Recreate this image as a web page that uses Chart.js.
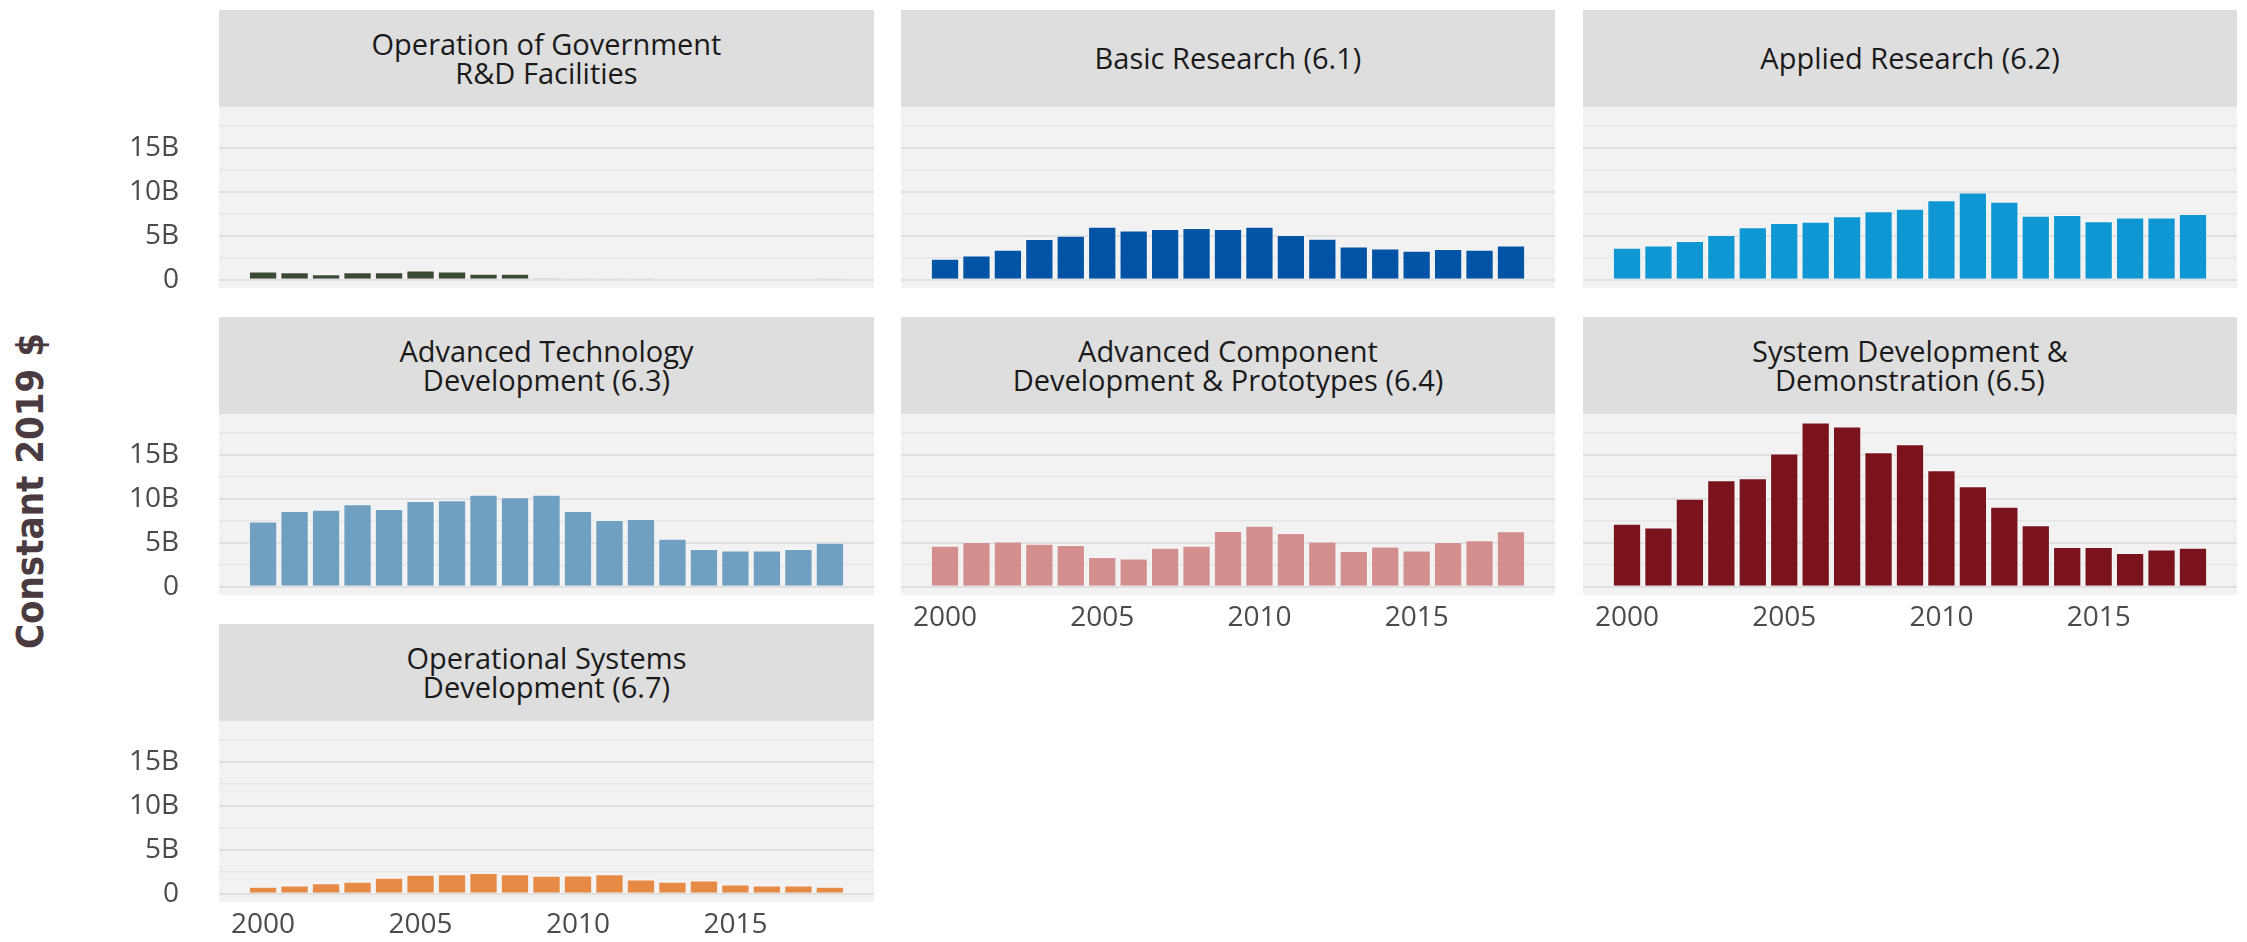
<!DOCTYPE html>
<html>
<head>
<meta charset="utf-8">
<script src="https://cdn.jsdelivr.net/npm/chart.js@4.4.0/dist/chart.umd.min.js"></script>
<style>
  html, body { margin:0; padding:0; background:#ffffff; width:2247px; height:942px; overflow:hidden; }
  .hdr { position:absolute; background:#dedede; color:#1a1a1a; font-family:"Open Sans", sans-serif;
         font-size:29px; line-height:28.5px; display:flex; align-items:center; justify-content:center; text-align:center; }
  .cw { position:absolute; }
  #ytitle { position:absolute; left:30px; top:491px; transform:translate(-50%,-50%) rotate(-90deg);
            font-family:"Liberation Sans Narrow", "DejaVu Sans Condensed", sans-serif; font-weight:bold;
            font-size:38px; color:#4a3b41; white-space:nowrap; }
</style>
</head>
<body>
<div id="ytitle">Constant 2019 $</div>
<script>
// ---------------- DATA ----------------
const years = [2000,2001,2002,2003,2004,2005,2006,2007,2008,2009,2010,2011,2012,2013,2014,2015,2016,2017,2018];

const panelTitles = [
  ["Operation of Government", "R&D Facilities"],
  ["Basic Research (6.1)"],
  ["Applied Research (6.2)"],
  ["Advanced Technology", "Development (6.3)"],
  ["Advanced Component", "Development & Prototypes (6.4)"],
  ["System Development &", "Demonstration (6.5)"],
  ["Operational Systems", "Development (6.7)"]
];

// values in billions of constant 2019 $
const opGovFacilities  = [0.95, 0.87, 0.64, 0.87, 0.87, 1.06, 0.95, 0.68, 0.68, 0.19, 0.08, 0.08, 0.08, null, null, null, null, null, 0.08];
const basicResearch    = [2.39, 2.77, 3.41, 4.62, 5.00, 6.02, 5.60, 5.76, 5.87, 5.76, 6.02, 5.08, 4.66, 3.79, 3.56, 3.30, 3.48, 3.41, 3.90];
const appliedResearch  = [3.64, 3.90, 4.39, 5.08, 5.95, 6.44, 6.59, 7.20, 7.77, 8.07, 9.02, 9.89, 8.86, 7.27, 7.35, 6.63, 7.08, 7.08, 7.46];
const advTechDev       = [7.42, 8.60, 8.75, 9.36, 8.83, 9.73, 9.81, 10.45, 10.15, 10.45, 8.60, 7.58, 7.69, 5.45, 4.28, 4.13, 4.13, 4.28, 5.00];
const advComponentDev  = [4.66, 5.08, 5.15, 4.89, 4.73, 3.37, 3.22, 4.43, 4.66, 6.33, 6.93, 6.10, 5.15, 4.05, 4.58, 4.13, 5.08, 5.27, 6.29];
const sysDevDemo       = [7.16, 6.74, 10.00, 12.08, 12.31, 15.11, 18.64, 18.18, 15.27, 16.17, 13.22, 11.40, 9.09, 6.97, 4.51, 4.51, 3.83, 4.24, 4.43];
const operationalSysDev= [0.80, 0.95, 1.21, 1.36, 1.82, 2.16, 2.23, 2.35, 2.23, 2.05, 2.08, 2.23, 1.63, 1.36, 1.52, 1.06, 0.95, 0.95, 0.80];

const seriesList = [opGovFacilities, basicResearch, appliedResearch, advTechDev, advComponentDev, sysDevDemo, operationalSysDev];

const yTickValues = [0, 5, 10, 15];
const xTickValues = [2000, 2005, 2010, 2015];

// ---------------- STYLE / LAYOUT ----------------
const barColors = ["#3c4a35", "#0053a5", "#0f97d4", "#6f9fc1", "#d28f8e", "#7b131c", "#e68a46"];
const colLeft  = [219, 901, 1583];
const colRight = [874, 1555, 2237];
const rowTop   = [10, 317, 624];
const HDR_H = 97, PLOT_H = 181;
const YW = 110, XH = 60;
const showYTicks = [true, false, false, true, false, false, true];
const showXTicks = [false, false, false, false, true, true, true];

const bgPlugin = {
  id: 'panelBg',
  beforeDraw(chart) {
    const a = chart.chartArea, c = chart.ctx;
    c.save(); c.fillStyle = '#f2f2f2';
    c.fillRect(a.left, a.top, a.right - a.left, a.bottom - a.top);
    c.restore();
  }
};

function zeroPad(s) { s.paddingTop = 0; s.paddingBottom = 0; s.paddingLeft = 0; s.paddingRight = 0; }

seriesList.forEach((vals, i) => {
  const col = i % 3, row = Math.floor(i / 3);
  const left = colLeft[col], right = colRight[col], top = rowTop[row];
  const w = right - left;

  const h = document.createElement('div');
  h.className = 'hdr';
  h.style.left = left + 'px'; h.style.top = top + 'px';
  h.style.width = w + 'px'; h.style.height = HDR_H + 'px';
  h.innerHTML = '<div>' + panelTitles[i].map(s => s.replace(/&/g,'&amp;')).join('<br>') + '</div>';
  document.body.appendChild(h);

  const wrap = document.createElement('div');
  wrap.className = 'cw';
  wrap.style.left = (left - YW) + 'px';
  wrap.style.top = (top + HDR_H) + 'px';
  const cv = document.createElement('canvas');
  cv.width = w + YW; cv.height = PLOT_H + XH;
  cv.style.width = (w + YW) + 'px'; cv.style.height = (PLOT_H + XH) + 'px';
  wrap.appendChild(cv);
  document.body.appendChild(wrap);

  new Chart(cv.getContext('2d'), {
    type: 'bar',
    data: {
      datasets: [{
        data: years.map((y, k) => ({ x: y, y: vals[k] })),
        backgroundColor: barColors[i],
        borderColor: 'rgba(255,255,255,0.45)',
        borderWidth: 1,
        barPercentage: 0.9,
        categoryPercentage: 1.0
      }]
    },
    options: {
      responsive: false,
      animation: false,
      devicePixelRatio: 1,
      layout: { padding: 0 },
      plugins: { legend: { display: false }, tooltip: { enabled: false } },
      scales: {
        x: {
          type: 'linear', min: 1998.6, max: 2019.4, offset: false,
          grid: { display: false, drawTicks: false },
          border: { display: false },
          afterBuildTicks: s => { s.ticks = xTickValues.map(v => ({ value: v })); },
          afterFit: s => { s.height = XH; zeroPad(s); },
          ticks: {
            display: showXTicks[i], autoSkip: false, maxRotation: 0, padding: 6,
            color: '#4d4a4b', font: { family: 'Open Sans', size: 28 },
            callback: v => String(v)
          }
        },
        y: {
          min: -0.93, max: 19.6,
          grid: {
            drawTicks: false,
            color: c => (c.tick && c.tick.value % 5 === 0) ? '#e0e0e0' : '#e6e6e6',
            lineWidth: c => (c.tick && c.tick.value % 5 === 0) ? 2 : 1.5
          },
          border: { display: false },
          afterFit: s => { s.width = YW; zeroPad(s); },
          ticks: {
            display: showYTicks[i], stepSize: 2.5, includeBounds: false, autoSkip: false, padding: 40,
            color: '#4d4a4b', font: { family: 'Open Sans', size: 28 },
            callback: v => yTickValues.includes(v) ? (v === 0 ? '0' : v + 'B') : ''
          }
        }
      }
    },
    plugins: [bgPlugin]
  });
});
</script>
</body>
</html>
